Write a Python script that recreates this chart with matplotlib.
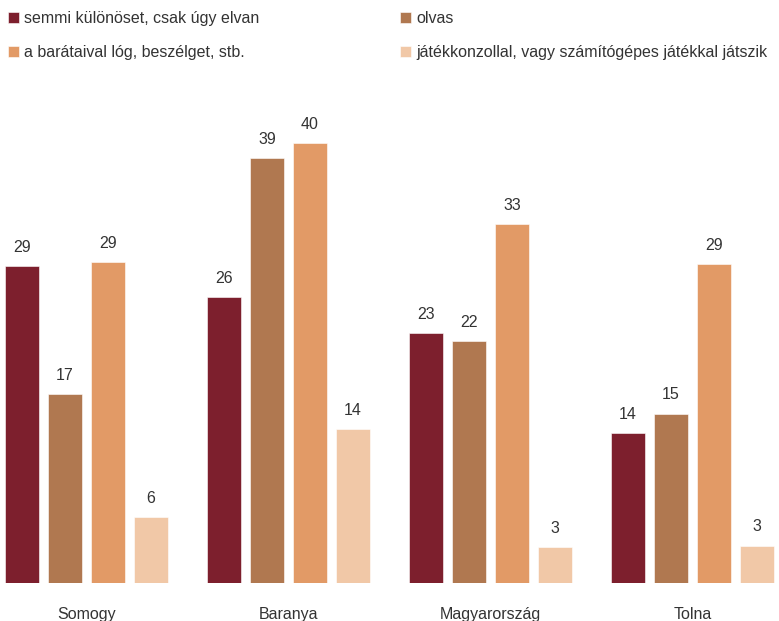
import matplotlib.pyplot as plt
import numpy as np

plt.rcParams['font.family'] = ['Liberation Sans', 'DejaVu Sans']

regions = ["Somogy", "Baranya", "Magyarország", "Tolna"]
series_names = ["semmi különöset, csak úgy elvan", "olvas",
                "a barátaival lóg, beszélget, stb.",
                "játékkonzollal, vagy számítógépes játékkal játszik"]
semmi = [28.8, 26.0, 22.7, 13.6]
olvas = [17.2, 38.6, 22.0, 15.4]
baratok = [29.2, 40.0, 32.6, 29.0]
jatek = [6.0, 14.0, 3.3, 3.4]
colors = ["#7d1f2d", "#b07850", "#e29a66", "#f1c8a7"]

fig = plt.figure(figsize=(7.79, 6.21), dpi=100)
ax = fig.add_axes([0, 38 / 621, 1, (583 - 100) / 621])

x = np.arange(len(regions))
width = 34 / 202
step = 43 / 202
bars = []
for i, vals in enumerate([semmi, olvas, baratok, jatek]):
    b = ax.bar(x + (i - 1.5) * step, vals, width, color=colors[i],
               edgecolor="white", linewidth=0.4)
    bars.append(b)
    for rect, v in zip(b, vals):
        ax.annotate("%.0f" % v, (rect.get_x() + rect.get_width() / 2, v),
                    xytext=(0, 8), textcoords="offset points",
                    ha="center", va="bottom", fontsize=11.5, color="#333333")

ax.set_xlim(-86.5 / 202, (779 - 86.5) / 202)
ax.set_ylim(0, (583 - 100) / 11)
ax.set_xticks(x)
ax.set_xticklabels(regions, fontsize=11.5, color="#333333")
ax.tick_params(axis="x", length=0, pad=17)
ax.set_yticks([])
for s in ax.spines.values():
    s.set_visible(False)

# legend: two columns placed by hand
kw = dict(frameon=False, fontsize=11.5, handlelength=0.7, handleheight=0.7,
          handletextpad=0.3, labelspacing=1.2, borderaxespad=0, borderpad=0,
          labelcolor="#333333")
fig.legend([bars[0], bars[2]], [series_names[0], series_names[2]],
           loc="upper left", bbox_to_anchor=(8 / 779, 1 - 11 / 621), **kw)
fig.legend([bars[1], bars[3]], [series_names[1], series_names[3]],
           loc="upper left", bbox_to_anchor=(400 / 779, 1 - 11 / 621), **kw)

fig.savefig("out.png", dpi=100)
